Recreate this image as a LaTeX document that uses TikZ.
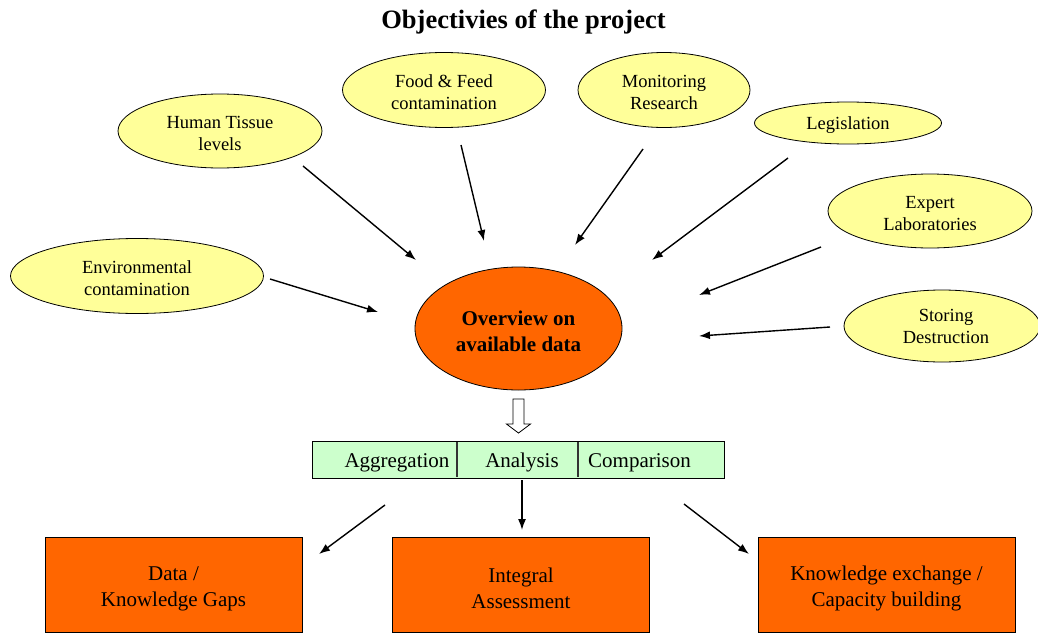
\documentclass[tikz,border=0pt]{standalone}
\usepackage{fontspec}
\setmainfont{Liberation Serif}
\usetikzlibrary{shapes.geometric,arrows.meta}
\definecolor{yel}{HTML}{FFFF99}
\definecolor{org}{HTML}{FF6600}
\definecolor{grn}{HTML}{CCFFCC}
\begin{document}
\begin{tikzpicture}[x=1pt,y=-1pt,
  obj/.style={ellipse,draw=black,line width=0.8pt,fill=yel,inner sep=0pt},
  objtext/.style={inner sep=0pt,align=center,font=\fontsize{18.5}{22}\selectfont},
  hub/.style={ellipse,draw=black,line width=0.8pt,fill=org,inner sep=0pt},
  hubtext/.style={inner sep=0pt,align=center,font=\bfseries\fontsize{21}{26}\selectfont},
  arr/.style={line width=1.4pt,-{Latex[length=11pt,width=8pt]}},
  outbox/.style={rectangle,draw=black,line width=0.8pt,fill=org,minimum width=257pt,minimum height=95pt,inner sep=0pt},
  outtext/.style={inner sep=0pt,align=center,font=\fontsize{21}{26}\selectfont},
  celltext/.style={inner sep=0pt,font=\fontsize{21}{25}\selectfont},
  hollow/.style={draw=black,line width=0.8pt,fill=white}]
\useasboundingbox (0,0) rectangle (1038,637);

\node[font=\bfseries\fontsize{26.5}{30}\selectfont] (title) at (523.5,22) {Objectivies of the project};

\node[obj,minimum width=204pt,minimum height=74pt] (ht) at (220,131) {};
\node[obj,minimum width=203pt,minimum height=75pt] (ff) at (444,90) {};
\node[obj,minimum width=172pt,minimum height=75pt] (mr) at (664,90) {};
\node[obj,minimum width=187pt,minimum height=42pt] (lg) at (848,123) {};
\node[obj,minimum width=204pt,minimum height=74pt] (el) at (930,211) {};
\node[obj,minimum width=196pt,minimum height=72pt] (sd) at (942,326) {};
\node[obj,minimum width=253pt,minimum height=75pt] (ec) at (137,276) {};

\node[objtext] (htT) at ([yshift=-2.5pt]ht.center) {Human Tissue\\levels};
\node[objtext] (ffT) at ([yshift=-2pt]ff.center) {Food \& Feed\\contamination};
\node[objtext] (mrT) at ([yshift=-2pt]mr.center) {Monitoring\\Research};
\node[objtext] (lgT) at ([yshift=-2.5pt]lg.center) {Legislation};
\node[objtext] (elT) at ([yshift=-2.5pt]el.center) {Expert\\Laboratories};
\node[objtext] (sdT) at ([xshift=4pt,yshift=-0.5pt]sd.center) {Storing\\Destruction};
\node[objtext] (ecT) at ([yshift=-2pt]ec.center) {Environmental\\contamination};

\node[hub,minimum width=207pt,minimum height=123pt] (ov) at (518.5,328.5) {};
\node[hubtext] (ovT) at ([yshift=-2.5pt]ov.center) {Overview on\\available data};

% arrow end points
\coordinate (htA) at (303,166);  \coordinate (htB) at (416,260);
\coordinate (ffA) at (461,145);  \coordinate (ffB) at (484,241);
\coordinate (mrA) at (643,149);  \coordinate (mrB) at (575,245);
\coordinate (lgA) at (788,158);  \coordinate (lgB) at (652,260);
\coordinate (elA) at (821,247);  \coordinate (elB) at (699,295);
\coordinate (sdA) at (830,327);  \coordinate (sdB) at (699,336);
\coordinate (ecA) at (270,279);  \coordinate (ecB) at (378,312);

\draw[arr] (htA) -- (htB);
\draw[arr] (ffA) -- (ffB);
\draw[arr] (mrA) -- (mrB);
\draw[arr] (lgA) -- (lgB);
\draw[arr] (elA) -- (elB);
\draw[arr] (sdA) -- (sdB);
\draw[arr] (ecA) -- (ecB);

% hollow block arrow
\coordinate (ha) at (518.5,399);
\draw[hollow] ([xshift=-5.5pt]ha) -- ([xshift=5.5pt]ha) -- ([xshift=5.5pt,yshift=-25pt]ha)
  -- ([xshift=12pt,yshift=-25pt]ha) -- ([yshift=-34pt]ha) -- ([xshift=-12pt,yshift=-25pt]ha)
  -- ([xshift=-5.5pt,yshift=-25pt]ha) -- cycle;

% green bar
\node[rectangle,draw=black,line width=0.8pt,fill=grn,minimum width=412pt,minimum height=37pt,inner sep=0pt] (bar) at (518,459.5) {};
\draw[line width=1.2pt,black!80] (457,442) -- (457,477);
\draw[line width=1.2pt,black!80] (578,442) -- (578,477);
\node[celltext,anchor=base] (agg) at (397,467) {Aggregation};
\node[celltext,anchor=base] (ana) at (522,467) {Analysis};
\node[celltext,anchor=base] (cmp) at (639.5,467) {Comparison};

% outcome boxes
\node[outbox] (b1) at (173.5,585) {};
\node[outbox] (b2) at (521,585) {};
\node[outbox] (b3) at (886.5,585) {};
\node[outtext] (b1T) at ([yshift=-3.5pt]b1.center) {Data /\\Knowledge Gaps};
\node[outtext] (b2T) at ([yshift=-3.5pt]b2.center) {Integral\\Assessment};
\node[outtext] (b3T) at ([yshift=-3.5pt]b3.center) {Knowledge exchange /\\Capacity building};

\coordinate (b1A) at (385,505); \coordinate (b1B) at (319,554);
\coordinate (b2A) at (522,480); \coordinate (b2B) at (522,530);
\coordinate (b3A) at (684,504); \coordinate (b3B) at (749,554);
\draw[arr] (b1A) -- (b1B);
\draw[arr] (b2A) -- (b2B);
\draw[arr] (b3A) -- (b3B);
\end{tikzpicture}
\end{document}
